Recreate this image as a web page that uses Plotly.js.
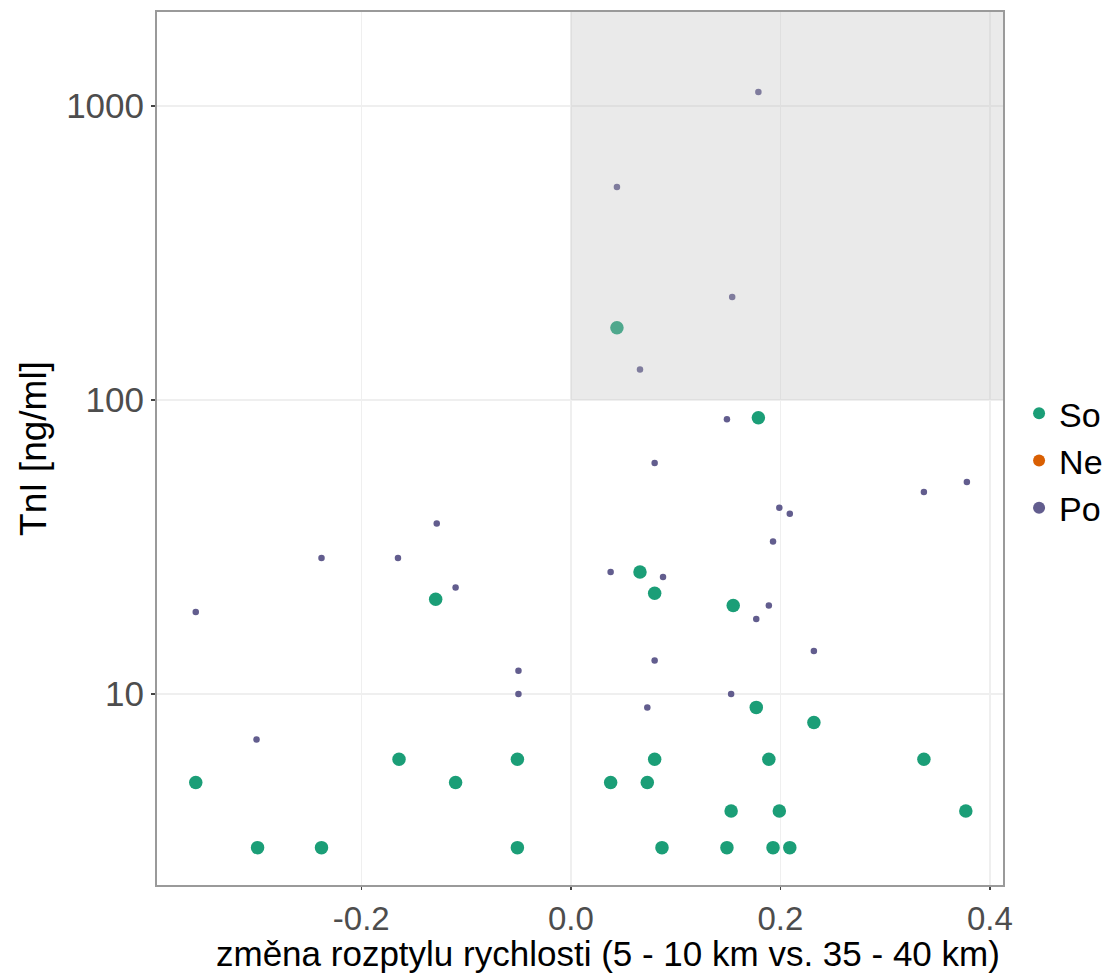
<!DOCTYPE html>
<html>
<head>
<meta charset="utf-8">
<script src="https://cdn.plot.ly/plotly-3.0.1.min.js"></script>
<style>html,body{margin:0;padding:0;background:#fff;}#chart{width:1117px;height:974px;}</style>
</head>
<body>
<div id="chart"></div>
<script>
// So (large green points)
const soX = [-0.358, -0.299, -0.238, -0.164, -0.129, -0.110, -0.051, -0.051, 0.038, 0.044, 0.066, 0.073, 0.080, 0.080, 0.087, 0.149, 0.153, 0.155, 0.177, 0.179, 0.189, 0.193, 0.199, 0.209, 0.232, 0.337, 0.377];
const soY = [5, 3, 3, 6, 21, 5, 6, 3, 5, 176, 26, 5, 6, 22, 3, 3, 4, 20, 9, 87, 6, 3, 4, 3, 8, 6, 4];
// Po (small purple points)
const poX = [-0.358, -0.300, -0.238, -0.165, -0.128, -0.110, -0.050, -0.050, 0.038, 0.044, 0.066, 0.073, 0.080, 0.080, 0.088, 0.149, 0.153, 0.154, 0.177, 0.179, 0.189, 0.193, 0.199, 0.209, 0.232, 0.337, 0.378];
const poY = [19, 7, 29, 29, 38, 23, 12, 10, 26, 530, 127, 9, 61, 13, 25, 86, 10, 224, 18, 1116, 20, 33, 43, 41, 14, 48.6, 52.6];
// Ne (legend only)
const neX = [null];
const neY = [null];

const seriesNames = ['So', 'Ne', 'Po'];
const xTickVals = [-0.2, 0.0, 0.2, 0.4];
const xTickText = ['-0.2', '0.0', '0.2', '0.4'];
const yTickVals = [10, 100, 1000];
const yTickText = ['10', '100', '1000'];
const xTitle = 'změna rozptylu rychlosti (5 - 10 km vs. 35 - 40 km)';
const yTitle = 'TnI [ng/ml]';

const traces = [
  {x: soX, y: soY, name: seriesNames[0], type: 'scatter', mode: 'markers',
   marker: {color: '#1b9e77', size: 13.5}},
  {x: neX, y: neY, name: seriesNames[1], type: 'scatter', mode: 'markers',
   marker: {color: '#d95f02', size: 13.5}},
  {x: poX, y: poY, name: seriesNames[2], type: 'scatter', mode: 'markers',
   marker: {color: '#625d8e', size: 6.5}}
];

const layout = {
  width: 1117, height: 974,
  margin: {l: 157, r: 114, t: 12, b: 89, autoexpand: false},
  paper_bgcolor: '#ffffff', plot_bgcolor: '#ffffff',
  font: {family: 'Liberation Sans, Arial, sans-serif', color: '#000'},
  showlegend: true,
  legend: {x: 1.019, y: 0.486, xanchor: 'left', yanchor: 'middle', itemsizing: 'constant',
           font: {size: 34, color: '#000'}, tracegroupgap: 0, itemwidth: 30,
           bgcolor: 'rgba(0,0,0,0)'},
  xaxis: {range: [-0.395, 0.4125], tickvals: xTickVals, ticktext: xTickText,
          showgrid: true, gridcolor: '#efefef', gridwidth: 1.5, zeroline: false,
          showline: true, linecolor: '#9a9a9a', linewidth: 2, mirror: true,
          ticks: 'outside', ticklen: 3, tickcolor: '#444', tickwidth: 1.5,
          tickfont: {size: 33, color: '#4d4d4d'}},
  yaxis: {type: 'log', range: [0.35, 3.32], tickvals: yTickVals, ticktext: yTickText,
          showgrid: true, gridcolor: '#efefef', gridwidth: 1.5, zeroline: false,
          showline: true, linecolor: '#9a9a9a', linewidth: 2, mirror: true,
          ticks: 'outside', ticklen: 4, tickcolor: '#444', tickwidth: 1.5,
          tickfont: {size: 35, color: '#4d4d4d'},
          title: {text: yTitle, font: {size: 37, color: '#000'}, standoff: 8}},
  annotations: [{text: xTitle, xref: 'paper', yref: 'paper', x: 0.533, y: -0.0785,
                 xanchor: 'center', yanchor: 'middle', showarrow: false,
                 font: {size: 35, color: '#000'}}],
  shapes: [{type: 'rect', xref: 'x', yref: 'y', x0: 0, x1: 0.4125, y0: 100, y1: 2090,
            fillcolor: 'rgba(190,190,190,0.32)', line: {width: 0}, layer: 'above'}]
};

Plotly.newPlot('chart', traces, layout, {displayModeBar: false, staticPlot: true});
</script>
</body>
</html>
